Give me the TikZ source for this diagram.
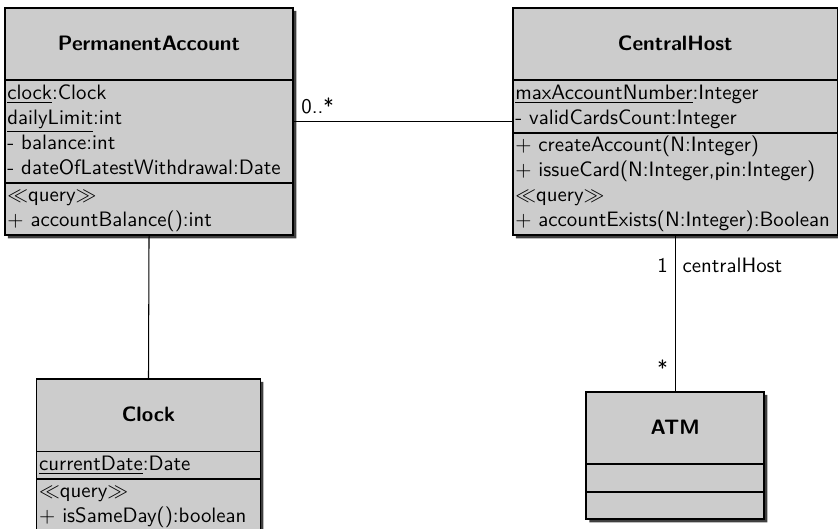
\documentclass[tikz,border=0pt]{standalone}
\usepackage{amsmath,amssymb}
\usetikzlibrary{shapes.multipart,shadows}
\newcommand{\umlname}[1]{\hbox to \hsize{\hfil\rule[-13.8pt]{0pt}{33.6pt}\textbf{#1}\hfil}}

\begin{document}
\begin{tikzpicture}[font=\sffamily,
  umlclass/.style={rectangle split,rectangle split parts=3,draw,line width=0.8pt,fill=black!20,
    align=left,inner xsep=1.2pt,inner ysep=0.2pt,anchor=north,
    drop shadow={shadow xshift=1.5pt,shadow yshift=-1.5pt,fill=black!75,opacity=1}},
  assoc/.style={line width=0.5pt}]
 \useasboundingbox (0,0) rectangle (14.137,-8.924);
 % classes
 \node[umlclass,text width=136pt] (account) at (2.514,-0.118) {\umlname{PermanentAccount}
   \nodepart{second}\strut\underline{clock}:Clock\\ \underline{dailyLimit}:int\\ - balance:int\\ \strut- dateOfLatestWithdrawal:Date
   \nodepart{third}\strut$\ll$query$\gg$\\ \strut$+$ accountBalance():int};
 \node[umlclass,text width=153.5pt] (host) at (11.39,-0.118) {\umlname{CentralHost}
   \nodepart{second}\strut\underline{maxAccountNumber}:Integer\\ \strut- validCardsCount:Integer
   \nodepart{third}\strut$+$ createAccount(N:Integer)\\ $+$ issueCard(N:Integer,pin:Integer)\\ $\ll$query$\gg$\\ \strut$+$ accountExists(N:Integer):Boolean};
 \node[umlclass,text width=105pt] (clock) at (2.505,-6.377) {\umlname{Clock}
   \nodepart{second}\strut\underline{currentDate}:Date
   \nodepart{third}\strut$\ll$query$\gg$\\ \strut$+$ isSameDay():boolean};
 \node[umlclass,text width=83pt] (atm) at (11.39,-6.596) {\umlname{ATM}
   \nodepart{second}\strut
   \nodepart{third}\strut};
 % associations
 \draw[assoc] (account.east) -- node[pos=0,above right] {0..*} (host.west);
 \draw[assoc] (account.south) -- (clock.north);
 \draw[assoc] (host.south) -- node[pos=0.19,left] {1} node[pos=0.19,right] {centralHost}
   node[pos=0.85,left] {*} (atm.north);
\end{tikzpicture}
\end{document}
